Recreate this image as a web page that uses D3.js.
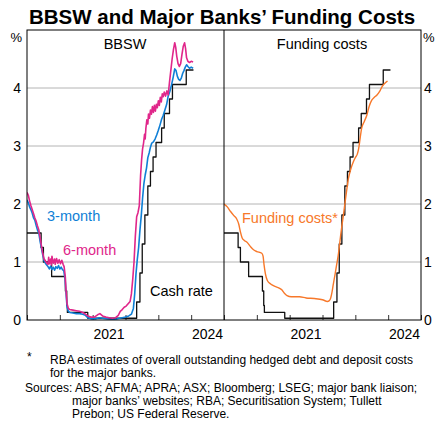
<!DOCTYPE html>
<html><head><meta charset="utf-8">
<script src="https://cdn.jsdelivr.net/npm/d3@7"></script>
<style>
body{margin:0;background:#fff;}
svg{display:block;font-family:"Liberation Sans",Arial,Helvetica,sans-serif;}
</style></head><body>
<svg id="c" width="439" height="428"></svg>
<script>
// ---- data (decimal year, %) ----
const cashX = [2019.00,2019.43,2019.50,2019.75,2020.17,2020.21,2020.23,2020.85,2022.34,2022.44,2022.51,2022.59,2022.68,2022.76,2022.84,2022.93,2023.10,2023.18,2023.34,2023.43,2023.85,2024.07];
const cashY = [1.50,1.25,1.00,0.75,0.50,0.25,0.13,0.03,0.31,0.81,1.31,1.81,2.31,2.56,2.81,3.06,3.31,3.56,3.81,4.06,4.31,4.31];

const bbsw3mX = [2019.00,2019.04,2019.08,2019.12,2019.16,2019.20,2019.24,2019.28,2019.32,2019.36,2019.40,2019.44,2019.48,2019.52,2019.56,2019.60,2019.64,2019.68,2019.72,2019.76,2019.80,2019.84,2019.88,2019.92,2019.96,2020.00,2020.04,2020.08,2020.12,2020.16,2020.19,2020.22,2020.26,2020.30,2020.40,2020.50,2020.60,2020.70,2020.78,2020.85,2020.95,2021.10,2021.20,2021.30,2021.45,2021.60,2021.75,2021.90,2022.00,2022.10,2022.18,2022.24,2022.28,2022.32,2022.36,2022.40,2022.44,2022.48,2022.52,2022.56,2022.60,2022.64,2022.68,2022.72,2022.76,2022.80,2022.85,2022.90,2022.95,2023.00,2023.05,2023.10,2023.15,2023.20,2023.25,2023.30,2023.35,2023.40,2023.45,2023.50,2023.54,2023.58,2023.62,2023.66,2023.70,2023.74,2023.78,2023.82,2023.86,2023.90,2023.95,2024.00,2024.06];
const bbsw3mY = [2.07,2.02,1.95,1.90,1.84,1.76,1.72,1.63,1.55,1.50,1.35,1.24,1.12,1.02,0.98,0.95,0.92,0.88,0.93,0.87,0.91,0.86,0.92,0.89,0.94,0.88,0.91,0.87,0.85,0.70,0.45,0.22,0.15,0.13,0.12,0.11,0.11,0.10,0.08,0.04,0.02,0.02,0.04,0.03,0.02,0.01,0.02,0.04,0.05,0.07,0.10,0.20,0.45,0.80,1.05,1.25,1.55,1.80,2.10,2.35,2.50,2.62,2.80,2.88,2.98,3.05,3.07,3.12,3.19,3.27,3.36,3.46,3.53,3.62,3.71,3.86,3.94,4.05,4.18,4.33,4.30,4.20,4.15,4.13,4.17,4.25,4.30,4.36,4.40,4.37,4.34,4.36,4.34];

const bbsw6mX = [2019.00,2019.04,2019.08,2019.12,2019.16,2019.20,2019.24,2019.28,2019.32,2019.36,2019.40,2019.44,2019.48,2019.52,2019.56,2019.60,2019.64,2019.66,2019.68,2019.72,2019.74,2019.76,2019.80,2019.84,2019.86,2019.90,2019.94,2019.98,2020.02,2020.06,2020.10,2020.13,2020.16,2020.19,2020.22,2020.26,2020.30,2020.40,2020.50,2020.60,2020.70,2020.78,2020.85,2020.95,2021.05,2021.15,2021.22,2021.30,2021.40,2021.50,2021.60,2021.70,2021.78,2021.84,2021.90,2021.96,2022.02,2022.08,2022.14,2022.18,2022.22,2022.26,2022.30,2022.34,2022.38,2022.42,2022.46,2022.49,2022.52,2022.55,2022.58,2022.60,2022.62,2022.65,2022.68,2022.70,2022.73,2022.76,2022.79,2022.82,2022.85,2022.88,2022.91,2022.94,2022.97,2023.00,2023.03,2023.06,2023.09,2023.12,2023.15,2023.18,2023.22,2023.26,2023.30,2023.34,2023.38,2023.42,2023.46,2023.50,2023.53,2023.56,2023.60,2023.64,2023.68,2023.72,2023.76,2023.80,2023.83,2023.86,2023.90,2023.95,2024.00,2024.06];
const bbsw6mY = [2.20,2.15,2.05,1.97,1.90,1.83,1.76,1.70,1.62,1.55,1.42,1.28,1.15,1.05,1.02,0.98,0.96,1.08,0.97,1.05,0.95,1.10,0.98,1.05,0.96,1.06,0.98,1.04,0.97,1.03,0.96,0.92,0.78,0.50,0.28,0.20,0.18,0.17,0.16,0.15,0.13,0.10,0.07,0.05,0.05,0.09,0.11,0.07,0.05,0.04,0.03,0.04,0.08,0.15,0.18,0.22,0.24,0.28,0.32,0.45,0.70,1.00,1.45,1.78,1.85,1.97,2.50,2.76,2.95,3.05,3.20,3.12,3.30,3.45,3.38,3.55,3.48,3.62,3.55,3.68,3.58,3.70,3.60,3.72,3.66,3.78,3.70,3.84,3.76,3.90,3.85,3.93,3.86,3.95,3.88,4.10,4.30,4.50,4.66,4.78,4.70,4.55,4.42,4.37,4.42,4.58,4.72,4.78,4.68,4.52,4.46,4.44,4.46,4.45];

const fundX = [2019.00,2019.10,2019.20,2019.30,2019.38,2019.45,2019.50,2019.55,2019.62,2019.70,2019.80,2019.90,2020.00,2020.15,2020.19,2020.22,2020.26,2020.32,2020.42,2020.55,2020.68,2020.76,2020.84,2020.92,2021.05,2021.30,2021.50,2021.75,2022.00,2022.15,2022.20,2022.25,2022.29,2022.33,2022.38,2022.43,2022.48,2022.53,2022.58,2022.64,2022.69,2022.74,2022.79,2022.86,2022.94,2023.00,2023.06,2023.10,2023.15,2023.19,2023.27,2023.35,2023.42,2023.50,2023.58,2023.66,2023.74,2023.81,2023.90,2023.98];
const fundY = [2.00,1.95,1.87,1.80,1.75,1.65,1.52,1.42,1.37,1.34,1.27,1.21,1.18,1.15,1.10,0.95,0.80,0.68,0.62,0.58,0.55,0.52,0.46,0.42,0.40,0.40,0.38,0.37,0.35,0.32,0.33,0.38,0.48,0.62,0.78,0.95,1.12,1.35,1.58,1.82,2.04,2.25,2.44,2.60,2.73,2.80,2.86,2.95,3.15,3.30,3.42,3.53,3.68,3.79,3.84,3.88,3.94,4.02,4.08,4.12];

const yTicks = [0,1,2,3,4];
const yearTicks = [2019,2020,2021,2022,2023,2024,2025];
const yearLabels = [2021,2024];

// ---- layout ----
const svg = d3.select("#c");
const pTop = 30, pBottom = 320, pLeft = 27, pMid = 224, pRight = 421;
const y = d3.scaleLinear().domain([0,5]).range([pBottom, pTop]);
const xL = d3.scaleLinear().domain([2019,2025]).range([pLeft, pMid]);
const xR = d3.scaleLinear().domain([2019,2025]).range([pMid, pRight]);

const blue = "#0f7fd6", pink = "#e0268a", orange = "#f7782a";
const grid = "#b4b4b4";

// title
svg.append("text").attr("x",222).attr("y",24).attr("text-anchor","middle")
  .attr("font-size",20.5).attr("font-weight","bold").text("BBSW and Major Banks\u2019 Funding Costs");

// gridlines
svg.append("g").selectAll("line").data(yTicks.filter(d=>d>0)).join("line")
  .attr("x1",pLeft).attr("x2",pRight).attr("y1",d=>y(d)).attr("y2",d=>y(d))
  .attr("stroke",grid).attr("stroke-width",1);

// y axes labels
const yl = svg.append("g").attr("transform",`translate(${pLeft},0)`)
  .call(d3.axisLeft(y).tickValues(yTicks).tickSize(0).tickPadding(6).tickFormat(d3.format("d")));
yl.select(".domain").remove();
yl.selectAll("text").attr("font-size",14).attr("font-family",null);
const yr = svg.append("g").attr("transform",`translate(${pRight},0)`)
  .call(d3.axisRight(y).tickValues(yTicks).tickSize(0).tickPadding(3).tickFormat(d3.format("d")));
yr.select(".domain").remove();
yr.selectAll("text").attr("font-size",14).attr("font-family",null);
svg.append("text").attr("x",22).attr("y",42).attr("text-anchor","end").attr("font-size",13).text("%");
svg.append("text").attr("x",423).attr("y",42).attr("font-size",13).text("%");

// x ticks
function xAxis(x){
  const g = svg.append("g").attr("transform",`translate(0,${pBottom})`)
    .call(d3.axisBottom(x).tickValues(yearTicks).tickSize(-5).tickFormat(""));
  g.select(".domain").remove();
  g.selectAll("line").attr("stroke","#333");
  svg.append("g").selectAll("text").data(yearLabels).join("text")
    .attr("x",d=>x(d+0.5)).attr("y",pBottom+19).attr("text-anchor","middle")
    .attr("font-size",14).text(d=>d);
}
xAxis(xL); xAxis(xR);

// clip paths
const defs = svg.append("defs");
defs.append("clipPath").attr("id","clipL").append("rect").attr("x",pLeft).attr("y",pTop).attr("width",pMid-pLeft).attr("height",pBottom-pTop);
defs.append("clipPath").attr("id","clipR").append("rect").attr("x",pMid).attr("y",pTop).attr("width",pRight-pMid).attr("height",pBottom-pTop);

function drawLine(x, xs, ys, color, w, clip, curve){
  const data = xs.map((d,i)=>[d, ys[i]]);
  const line = d3.line().x(d=>x(d[0])).y(d=>y(d[1])).curve(curve || d3.curveLinear);
  svg.append("path").datum(data).attr("d",line).attr("fill","none")
    .attr("stroke",color).attr("stroke-width",w).attr("stroke-linejoin","round")
    .attr("clip-path",`url(#${clip})`);
}
// left panel
drawLine(xL, cashX, cashY, "#111", 1.3, "clipL", d3.curveStepAfter);
drawLine(xL, bbsw3mX, bbsw3mY, blue, 1.6, "clipL");
drawLine(xL, bbsw6mX, bbsw6mY, pink, 1.6, "clipL");
// right panel
drawLine(xR, cashX, cashY, "#111", 1.3, "clipR", d3.curveStepAfter);
drawLine(xR, fundX, fundY, orange, 1.4, "clipR", d3.curveMonotoneX);

// frame
svg.append("rect").attr("x",pLeft).attr("y",pTop).attr("width",pRight-pLeft).attr("height",pBottom-pTop)
  .attr("fill","none").attr("stroke","#000").attr("stroke-width",1);
svg.append("line").attr("x1",pMid).attr("x2",pMid).attr("y1",pTop).attr("y2",pBottom).attr("stroke","#000");

// panel titles
svg.append("text").attr("x",125).attr("y",49).attr("text-anchor","middle").attr("font-size",14.5).text("BBSW");
svg.append("text").attr("x",322).attr("y",49).attr("text-anchor","middle").attr("font-size",14.5).text("Funding costs");

// series labels
svg.append("text").attr("x",47).attr("y",220.5).attr("font-size",14.5).attr("fill",blue).text("3-month");
svg.append("text").attr("x",63).attr("y",255).attr("font-size",14.5).attr("fill",pink).text("6-month");
svg.append("text").attr("x",150).attr("y",296).attr("font-size",14.5).attr("fill","#000").text("Cash rate");
svg.append("text").attr("x",242).attr("y",222.5).attr("font-size",14.5).attr("fill",orange).text("Funding costs*");

// footnotes
const fn = svg.append("g").attr("font-size",12);
fn.append("text").attr("x",27).attr("y",361).text("*");
fn.append("text").attr("x",50).attr("y",364).text("RBA estimates of overall outstanding hedged debt and deposit costs");
fn.append("text").attr("x",50).attr("y",377).text("for the major banks.");
fn.append("text").attr("x",25).attr("y",392).text("Sources: ABS; AFMA; APRA; ASX; Bloomberg; LSEG; major bank liaison;");
fn.append("text").attr("x",72).attr("y",405).text("major banks\u2019 websites; RBA; Securitisation System; Tullett");
fn.append("text").attr("x",72).attr("y",418).text("Prebon; US Federal Reserve.");
</script>
</body></html>
